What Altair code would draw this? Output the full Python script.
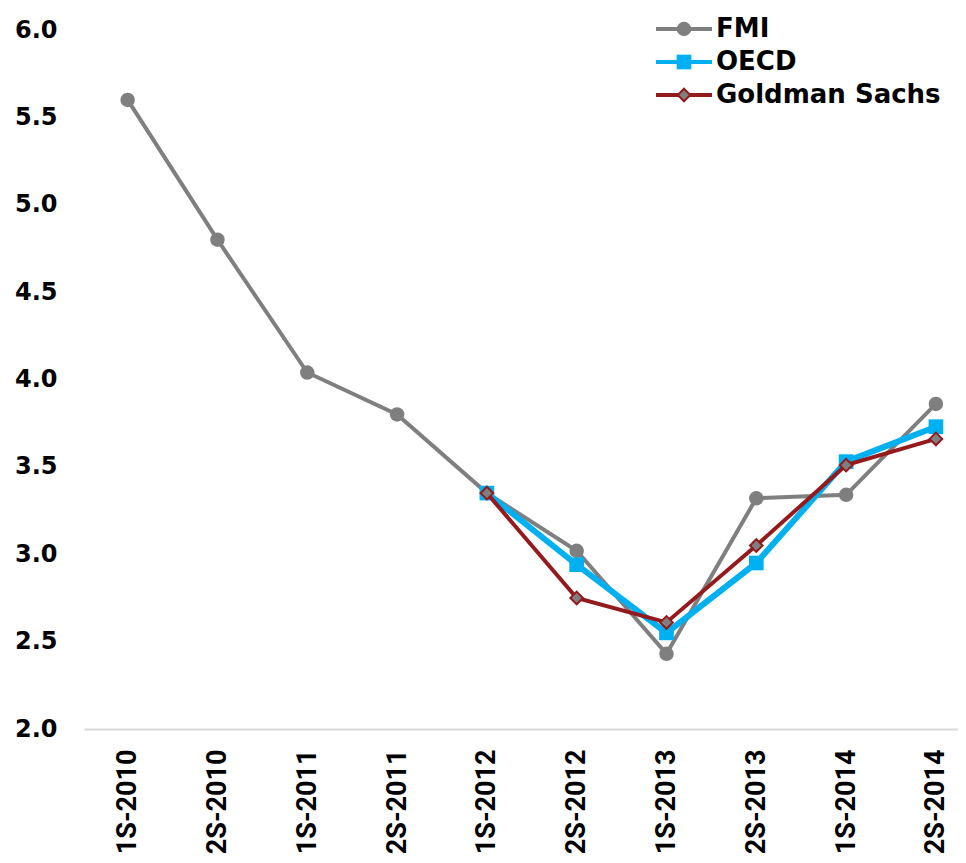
import altair as alt
import pandas as pd

categories = ["1S-2010", "2S-2010", "1S-2011", "2S-2011", "1S-2012",
              "2S-2012", "1S-2013", "2S-2013", "1S-2014", "2S-2014"]
fmi = [5.60, 4.80, 4.04, 3.80, 3.35, 3.02, 2.43, 3.32, 3.34, 3.86]
oecd = [None, None, None, None, 3.35, 2.94, 2.55, 2.95, 3.53, 3.73]
goldman = [None, None, None, None, 3.35, 2.75, 2.61, 3.05, 3.51, 3.66]
series_names = ["FMI", "OECD", "Goldman Sachs"]
y_ticks = [2.0, 2.5, 3.0, 3.5, 4.0, 4.5, 5.0, 5.5, 6.0]

rows = []
for name, vals in zip(series_names, [fmi, oecd, goldman]):
    for c, v in zip(categories, vals):
        if v is not None:
            rows.append({"period": c, "series": name, "value": v})
df = pd.DataFrame(rows)

GRAY = "#7f7f7f"
BLUE = "#00b0f0"
RED = "#941a1d"

styles = {
    "FMI": dict(line=GRAY, width=4, shape="circle", fill=GRAY, stroke=GRAY, size=210, sw=0),
    "OECD": dict(line=BLUE, width=6, shape="square", fill=BLUE, stroke=BLUE, size=215, sw=0),
    "Goldman Sachs": dict(line=RED, width=4, shape="diamond", fill=GRAY, stroke=RED, size=160, sw=2),
}

x_enc = alt.X(
    "period:N", sort=categories, title=None,
    scale=alt.Scale(type="point", padding=0.366, align=0.664),
    axis=alt.Axis(labelAngle=-90, labelFont="Roboto", labelFontSize=27,
                  labelFontWeight="bold", labelColor="black", labelPadding=20,
                  ticks=False, grid=False, domainColor="#d9d9d9", domainWidth=2),
)
y_enc = alt.Y(
    "value:Q", title=None,
    scale=alt.Scale(domain=[2, 6], nice=False, zero=False),
    axis=alt.Axis(values=y_ticks, format=".1f", grid=False, domain=False, ticks=False,
                  labelFont="DejaVu Sans", labelFontSize=24, labelFontWeight="bold",
                  labelColor="black", labelPadding=27),
)

layers = []
for name in series_names:
    s = styles[name]
    base = alt.Chart(df).transform_filter(alt.datum.series == name).encode(x=x_enc, y=y_enc)
    layers.append(base.mark_line(color=s["line"], strokeWidth=s["width"]))
    layers.append(base.mark_point(shape=s["shape"], filled=True, fill=s["fill"],
                                  stroke=s["stroke"], strokeWidth=s["sw"],
                                  size=s["size"], opacity=1))

# manual legend (layout positions in pixels)
leg_y = {"FMI": -1, "OECD": 32, "Goldman Sachs": 65}
for name in series_names:
    s = styles[name]
    ld = pd.DataFrame({"series": [name]})
    lb = alt.Chart(ld)
    layers.append(lb.mark_rule(color=s["line"], strokeWidth=4).encode(
        x=alt.value(572), x2=alt.value(628), y=alt.value(leg_y[name])))
    layers.append(lb.mark_point(shape=s["shape"], filled=True, fill=s["fill"],
                                stroke=s["stroke"], strokeWidth=s["sw"],
                                size=s["size"], opacity=1).encode(
        x=alt.value(600), y=alt.value(leg_y[name])))
    layers.append(lb.mark_text(align="left", baseline="middle", font="DejaVu Sans",
                               fontSize=26, fontWeight="bold", color="black").encode(
        x=alt.value(632), y=alt.value(leg_y[name]), text="series:N"))

chart = alt.layer(*layers).properties(
    width=874, height=699,
    padding={"left": 6, "top": 8, "right": 0, "bottom": 0},
    background="white",
).configure_view(stroke=None)

chart.save("out.html", embed_options={"renderer": "svg", "actions": False})
